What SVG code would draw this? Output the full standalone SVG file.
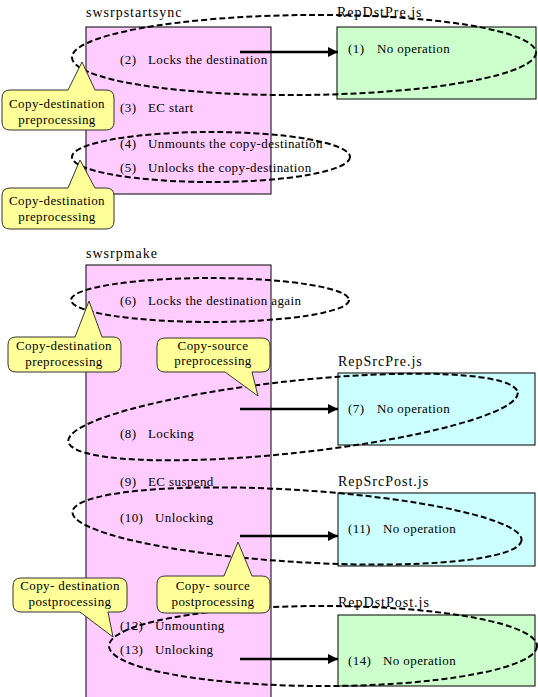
<svg xmlns="http://www.w3.org/2000/svg" width="538" height="697" viewBox="0 0 538 697">
<defs>
<style>
text{font-family:"Liberation Serif","DejaVu Serif",serif;font-size:13px;letter-spacing:0.4px;fill:#000}
.lbl{font-size:14px;letter-spacing:1px}
.proc{fill:#FFCCFF;stroke:#000;stroke-width:1}
.dst{fill:#CCFFCC;stroke:#000;stroke-width:1}
.src{fill:#CCFFFF;stroke:#000;stroke-width:1}
.ell{fill:none;stroke:#000;stroke-width:2;stroke-dasharray:6,3}
.arr{stroke:#000;stroke-width:2.5;fill:none}
.call{fill:#FFFF99;stroke:#333;stroke-width:1}
.ct{text-anchor:middle}
</style>
<marker id="ah" viewBox="0 0 10 10" refX="10" refY="5" markerWidth="4" markerHeight="4" orient="auto" markerUnits="strokeWidth">
<path d="M0,0 L10,5 L0,10 Z" fill="#000"/>
</marker>
</defs>
<rect width="538" height="697" fill="#fff"/>

<g id="swsrpstartsync">
<rect class="proc" x="86" y="27" width="185" height="167"/>
<text class="lbl" x="86" y="17">swsrpstartsync</text>
<text x="120" y="64">(2)</text><text x="148" y="64">Locks the destination</text>
<text x="120" y="112">(3)</text><text x="148" y="112">EC start</text>
<text x="120" y="148">(4)</text><text x="148" y="148">Unmounts the copy-destination</text>
<text x="120" y="172">(5)</text><text x="148" y="172">Unlocks the copy-destination</text>
</g>

<g id="RepDstPre">
<rect class="dst" x="337" y="27" width="199" height="72"/>
<text class="lbl" x="337" y="17">RepDstPre.js</text>
<text x="348" y="53">(1)</text><text x="377" y="53">No operation</text>
</g>

<g id="swsrpmake">
<rect class="proc" x="86" y="265" width="185" height="440"/>
<text class="lbl" x="86" y="258">swsrpmake</text>
<text x="120" y="305">(6)</text><text x="148" y="305">Locks the destination again</text>
<text x="120" y="438">(8)</text><text x="148" y="438">Locking</text>
<text x="120" y="486">(9)</text><text x="148" y="486">EC suspend</text>
<text x="120" y="522">(10)</text><text x="155" y="522">Unlocking</text>
<text x="120" y="630">(12)</text><text x="155" y="630">Unmounting</text>
<text x="120" y="654">(13)</text><text x="155" y="654">Unlocking</text>
</g>

<g id="RepSrcPre">
<rect class="src" x="338" y="373" width="197" height="72"/>
<text class="lbl" x="338" y="366">RepSrcPre.js</text>
<text x="348" y="413">(7)</text><text x="377" y="413">No operation</text>
</g>

<g id="RepSrcPost">
<rect class="src" x="338" y="493" width="197" height="73"/>
<text class="lbl" x="338" y="486">RepSrcPost.js</text>
<text x="348" y="533">(11)</text><text x="383" y="533">No operation</text>
</g>

<g id="RepDstPost">
<rect class="dst" x="338" y="615" width="197" height="71"/>
<text class="lbl" x="338" y="607">RepDstPost.js</text>
<text x="348" y="665">(14)</text><text x="383" y="665">No operation</text>
</g>

<g id="connectors">
<line class="arr" x1="240" y1="52" x2="338" y2="52" marker-end="url(#ah)"/>
<line class="arr" x1="240" y1="409" x2="338" y2="409" marker-end="url(#ah)"/>
<line class="arr" x1="240" y1="536" x2="338" y2="536" marker-end="url(#ah)"/>
<line class="arr" x1="240" y1="659" x2="338" y2="659" marker-end="url(#ah)"/>
</g>

<g id="groupings">
<ellipse class="ell" cx="304" cy="55" rx="232" ry="40" transform="rotate(-0.6 304 55)"/>
<ellipse class="ell" cx="211" cy="157" rx="139" ry="25"/>
<ellipse class="ell" cx="210" cy="300" rx="139" ry="22"/>
<ellipse class="ell" cx="293" cy="417" rx="226" ry="36" transform="rotate(-6.2 293 417)"/>
<ellipse class="ell" cx="297" cy="526" rx="225" ry="36" transform="rotate(3.6 297 526)"/>
<ellipse class="ell" cx="323" cy="646" rx="214" ry="40"/>
</g>

<g id="callout1">
<path class="call" d="M10,90 L68,90 L82,62 L95,90 L106,90 Q114,90 114,98 L114,122 Q114,130 106,130 L10,130 Q2,130 2,122 L2,98 Q2,90 10,90 Z"/>
<text class="ct" x="57" y="108">Copy-destination</text>
<text class="ct" x="57" y="124">preprocessing</text>
</g>
<g id="callout2">
<path class="call" d="M10,188 L68,188 L80,160 L95,188 L106,188 Q114,188 114,196 L114,221 Q114,229 106,229 L10,229 Q2,229 2,221 L2,196 Q2,188 10,188 Z"/>
<text class="ct" x="57" y="205">Copy-destination</text>
<text class="ct" x="57" y="221">preprocessing</text>
</g>
<g id="callout3">
<path class="call" d="M16,337 L75,337 L89,301 L102,337 L113,337 Q121,337 121,345 L121,364 Q121,372 113,372 L16,372 Q8,372 8,364 L8,345 Q8,337 16,337 Z"/>
<text class="ct" x="64" y="350">Copy-destination</text>
<text class="ct" x="64" y="366">preprocessing</text>
</g>
<g id="callout4">
<path class="call" d="M165,338 L262,338 Q270,338 270,346 L270,364 Q270,372 262,372 L252,372 L258,396 L225,372 L165,372 Q157,372 157,364 L157,346 Q157,338 165,338 Z"/>
<text class="ct" x="213" y="350">Copy-source</text>
<text class="ct" x="213" y="365">preprocessing</text>
</g>
<g id="callout5">
<path class="call" d="M21,578 L119,578 Q127,578 127,586 L127,604 Q127,612 119,612 L108,612 L113,637 L80,612 L21,612 Q13,612 13,604 L13,586 Q13,578 21,578 Z"/>
<text class="ct" x="70" y="590">Copy- destination</text>
<text class="ct" x="70" y="606">postprocessing</text>
</g>
<g id="callout6">
<path class="call" d="M165,576 L224,576 L238,542 L252,576 L262,576 Q270,576 270,584 L270,605 Q270,613 262,613 L165,613 Q157,613 157,605 L157,584 Q157,576 165,576 Z"/>
<text class="ct" x="213" y="590">Copy- source</text>
<text class="ct" x="213" y="606">postprocessing</text>
</g>
</svg>
